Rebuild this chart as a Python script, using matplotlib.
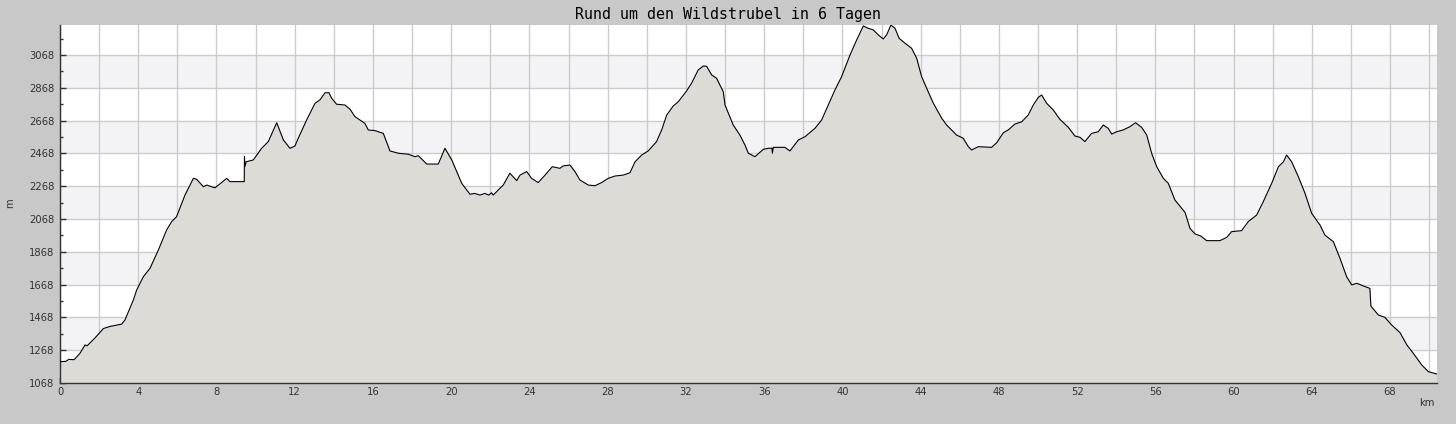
import matplotlib
matplotlib.use("Agg")
import matplotlib.pyplot as plt
from matplotlib.ticker import MultipleLocator, FuncFormatter

title = "Rund um den Wildstrubel in 6 Tagen"

# distance along the route (km) and elevation (m)
km = [0.0, 0.3, 0.45, 0.72, 1.02, 1.28, 1.39, 1.79, 2.22, 2.56, 3.15, 3.32, 3.75,
      3.92, 4.26, 4.6, 5.03, 5.45, 5.71, 5.96, 6.39, 6.82, 6.99, 7.33, 7.5, 7.92,
      8.26, 8.52, 8.69, 9.42, 9.43, 9.46, 9.52, 9.88, 10.31, 10.65, 11.08, 11.42,
      11.76, 12.01, 12.18, 12.61, 13.04, 13.29, 13.55, 13.75, 13.89, 14.14, 14.57,
      14.83, 15.08, 15.59, 15.76, 16.1, 16.53, 16.87, 17.3, 17.81, 18.15, 18.32,
      18.75, 19.34, 19.68, 20.03, 20.54, 20.96, 21.2, 21.47, 21.72, 21.92, 22.06,
      22.15, 22.66, 23.0, 23.35, 23.52, 23.86, 24.11, 24.45, 24.8, 25.17, 25.56,
      25.73, 26.07, 26.33, 26.58, 27.01, 27.35, 27.69, 28.03, 28.37, 28.8, 29.14,
      29.4, 29.74, 30.08, 30.5, 30.76, 31.02, 31.35, 31.61, 32.04, 32.29, 32.63,
      32.89, 33.06, 33.32, 33.57, 33.91, 34.0, 34.42, 34.76, 35.02, 35.19, 35.53,
      35.96, 36.21, 36.4, 36.42, 36.47, 36.72, 37.06, 37.32, 37.75, 38.09, 38.6,
      38.94, 39.28, 39.62, 39.96, 40.39, 40.73, 41.07, 41.32, 41.58, 41.84, 42.09,
      42.26, 42.48, 42.69, 42.9, 43.2, 43.54, 43.8, 44.05, 44.31, 44.65, 45.08,
      45.33, 45.84, 46.18, 46.44, 46.61, 46.95, 47.63, 47.89, 48.23, 48.48, 48.82,
      49.17, 49.5, 49.76, 50.02, 50.19, 50.44, 50.78, 51.12, 51.55, 51.89, 52.15,
      52.4, 52.74, 53.08, 53.34, 53.59, 53.77, 54.02, 54.36, 54.7, 54.99, 55.3,
      55.56, 55.81, 56.07, 56.41, 56.66, 57.0, 57.35, 57.52, 57.77, 58.03, 58.33,
      58.62, 59.3, 59.65, 59.9, 60.41, 60.75, 61.18, 61.52, 61.95, 62.29, 62.55,
      62.71, 62.97, 63.31, 63.65, 63.99, 64.42, 64.67, 65.1, 65.44, 65.78, 66.04,
      66.3, 66.63, 66.97, 67.02, 67.4, 67.74, 68.08, 68.51, 68.86, 69.19, 69.62,
      69.96, 70.39]
elev = [1198, 1200, 1212, 1210, 1249, 1300, 1295, 1343, 1400, 1413, 1427, 1452, 1574,
        1635, 1716, 1767, 1879, 2001, 2052, 2082, 2214, 2316, 2310, 2265, 2275, 2258,
        2290, 2316, 2296, 2296, 2448, 2390, 2417, 2428, 2499, 2540, 2655, 2550,
        2499, 2513, 2560, 2672, 2774, 2794, 2838, 2838, 2804, 2768, 2763,
        2737, 2692, 2651, 2611, 2607, 2590, 2483, 2469, 2463, 2448, 2454,
        2403, 2403, 2499, 2428, 2285, 2219, 2224, 2214, 2224, 2214, 2228,
        2214, 2275, 2347, 2302, 2336, 2357, 2316, 2290, 2336, 2387, 2377,
        2392, 2397, 2357, 2306, 2275, 2271, 2290, 2316, 2330, 2336, 2350,
        2417, 2458, 2484, 2540, 2611, 2702, 2757, 2783, 2850, 2896, 2977,
        3001, 2999, 2946, 2926, 2844, 2763, 2641, 2580, 2519, 2469, 2448,
        2493, 2499, 2500, 2469, 2505, 2505, 2505, 2483, 2550, 2570, 2621,
        2672, 2763, 2855, 2936, 3068, 3160, 3245, 3231, 3221, 3190, 3166,
        3190, 3251, 3231, 3170, 3140, 3109, 3048, 2936, 2865, 2774, 2682,
        2641, 2580, 2560, 2509, 2489, 2509, 2505, 2533, 2594, 2611, 2647,
        2661, 2702, 2763, 2810, 2824, 2774, 2733, 2676, 2627, 2574, 2566,
        2540, 2590, 2600, 2641, 2621, 2586, 2600, 2611, 2631, 2655, 2627,
        2580, 2469, 2387, 2316, 2286, 2184, 2133, 2108, 2011, 1977, 1964,
        1936, 1936, 1956, 1991, 1997, 2052, 2092, 2174, 2286, 2387, 2417,
        2458, 2417, 2326, 2225, 2103, 2031, 1970, 1930, 1828, 1716, 1666,
        1676, 1660, 1645, 1537, 1483, 1468, 1422, 1375, 1300, 1249, 1178,
        1137, 1123]

ymin, ymax = 1068, 3251
xmax = 70.4

fig = plt.figure(figsize=(14.56, 4.24), dpi=100, facecolor="#c8c8c8")
ax = fig.add_axes([60/1456, 41/424, 1377/1456, 358/424])
ax.set_facecolor("white")

# alternating bands every 200 m
for lo in range(1268, 3068, 400):
    ax.axhspan(lo, lo + 200, color="#f3f2f5", zorder=0, lw=0)

ax.fill_between(km, elev, ymin, color="#dcdbd6", zorder=2, lw=0)
ax.plot(km, elev, color="black", lw=0.8, zorder=3)

ax.set_xlim(0, xmax)
ax.set_ylim(ymin, ymax)

ax.xaxis.set_major_locator(MultipleLocator(2))
ax.xaxis.set_minor_locator(MultipleLocator(1))
ax.xaxis.set_major_formatter(FuncFormatter(lambda v, p: "%d" % v if round(v) % 4 == 0 else ""))
ax.set_yticks(range(1068, 3251, 200))
ax.set_yticks(range(1168, 3251, 200), minor=True)

ax.grid(True, which="major", color="#cccccc", lw=1.0, zorder=1)
ax.set_axisbelow(True)
ax.tick_params(which="both", direction="in", colors="#333333", labelsize=7.2)
ax.tick_params(which="major", length=4, width=1)
ax.tick_params(which="minor", length=2.5, width=1)
ax.tick_params(axis="x", pad=3)
ax.tick_params(axis="y", pad=4)

for s in ["top", "right"]:
    ax.spines[s].set_visible(False)
for s in ["left", "bottom"]:
    ax.spines[s].set_color("#333333")
    ax.spines[s].set_linewidth(1.0)

fig.text(728/1456, 1 - 14/424, title, ha="center", va="center",
         family="DejaVu Sans Mono", fontsize=10.8, color="black")
fig.text(1427/1456, 1 - 403/424, "km", ha="center", va="center", fontsize=7.2, color="#333333")
fig.text(10/1456, 1 - 203/424, "m", ha="center", va="center", rotation=90, fontsize=7.2, color="#333333")

fig.savefig("out.png", dpi=100, facecolor=fig.get_facecolor())
